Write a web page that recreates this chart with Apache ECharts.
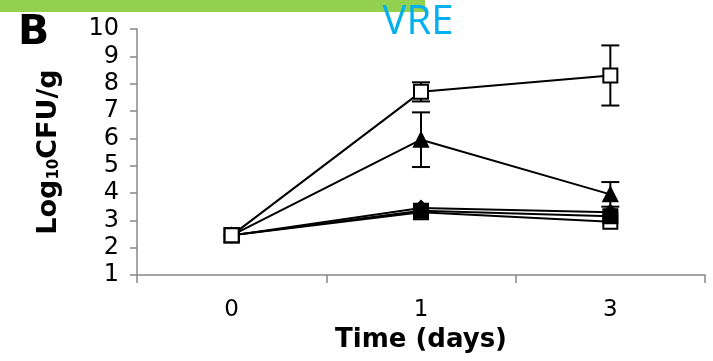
<!DOCTYPE html>
<html>
<head>
<meta charset="utf-8">
<script src="https://cdn.jsdelivr.net/npm/echarts@6/dist/echarts.min.js"></script>
<style>html,body{margin:0;padding:0;background:#fff;}#c{width:713px;height:361px;}</style>
</head>
<body>
<div id="c"></div>
<script>
var categories = ['0', '1', '3'];
var openSquareTop = [2.45, 7.7, 8.3];
var openSquareTopErr = [0, 0.35, 1.1];
var triangle = [2.45, 5.95, 3.95];
var triangleErr = [0, 1.0, 0.45];
var diamond = [2.45, 3.45, 3.3];
var filledSquare = [2.45, 3.35, 3.15];
var openSquareLow = [2.45, 3.3, 2.95];
var yTicks = {min: 1, max: 10, interval: 1};

var chart = echarts.init(document.getElementById('c'), null, {renderer: 'canvas'});

function errData(vals, errs) {
  var d = [];
  for (var i = 0; i < vals.length; i++) {
    if (errs[i] > 0) d.push([i, vals[i] - errs[i], vals[i] + errs[i]]);
  }
  return d;
}
function errRender(params, api) {
  var lo = api.coord([api.value(0), api.value(1)]);
  var hi = api.coord([api.value(0), api.value(2)]);
  var hw = 9;
  var st = {stroke: '#000', lineWidth: 2};
  return {type: 'group', children: [
    {type: 'line', shape: {x1: hi[0], y1: hi[1], x2: lo[0], y2: lo[1]}, style: st},
    {type: 'line', shape: {x1: hi[0] - hw, y1: hi[1], x2: hi[0] + hw, y2: hi[1]}, style: st},
    {type: 'line', shape: {x1: lo[0] - hw, y1: lo[1], x2: lo[0] + hw, y2: lo[1]}, style: st}
  ]};
}
function lineSeries(data, symbol, size, filled, z) {
  return {
    type: 'line', data: data, symbol: symbol, symbolSize: size, z: z,
    showAllSymbol: true, animation: false,
    lineStyle: {color: '#000', width: 2},
    itemStyle: {color: filled ? '#000' : '#fff', borderColor: '#000', borderWidth: 2, opacity: 1}
  };
}

chart.setOption({
  animation: false,
  backgroundColor: '#fff',
  grid: {left: 137, right: 8, top: 29, bottom: 86},
  graphic: [
    {type: 'rect', shape: {x: 0, y: 0, width: 425, height: 12}, style: {fill: '#92D050'}, z: 1},
    {type: 'text', left: 18, top: 13, style: {text: 'B', font: 'bold 41px "DejaVu Sans"', fill: '#000'}, z: 2},
    {type: 'text', x: 418, y: 23, style: {text: 'VRE', font: '40px "Open Sans"', fill: '#00B0F0', align: 'center', verticalAlign: 'middle'}, z: 3}
  ],
  xAxis: {
    type: 'category', data: categories, boundaryGap: true,
    axisLine: {lineStyle: {color: '#888', width: 1.5}},
    axisTick: {show: true, length: 8, lineStyle: {color: '#888', width: 1.5}},
    axisLabel: {fontFamily: 'DejaVu Sans', fontSize: 23, color: '#000', margin: 24},
    name: 'Time (days)', nameLocation: 'middle', nameGap: 52,
    nameTextStyle: {fontFamily: 'DejaVu Sans', fontWeight: 'bold', fontSize: 26, color: '#000'}
  },
  yAxis: {
    type: 'value', min: yTicks.min, max: yTicks.max, interval: yTicks.interval,
    splitLine: {show: false},
    axisLine: {show: true, lineStyle: {color: '#888', width: 1.5}},
    axisTick: {show: true, length: 7, lineStyle: {color: '#888', width: 1.5}},
    axisLabel: {fontFamily: 'DejaVu Sans', fontSize: 24, color: '#000', margin: 18},
    name: '{b|Log}{s|10}{b|CFU/g}', nameLocation: 'middle', nameRotate: 90, nameGap: 75,
    nameTextStyle: {
      rich: {
        b: {fontFamily: 'DejaVu Sans', fontWeight: 'bold', fontSize: 27, color: '#000'},
        s: {fontFamily: 'DejaVu Sans', fontWeight: 'bold', fontSize: 15, color: '#000', verticalAlign: 'bottom'}
      }
    }
  },
  series: [
    {type: 'custom', renderItem: errRender, data: errData(openSquareTop, openSquareTopErr), z: 1, animation: false},
    {type: 'custom', renderItem: errRender, data: errData(triangle, triangleErr), z: 1, animation: false},
    lineSeries(openSquareLow, 'rect', 14, false, 2),
    lineSeries(filledSquare, 'rect', 14, true, 3),
    lineSeries(diamond, 'diamond', 14, true, 4),
    lineSeries(triangle, 'triangle', 14, true, 5),
    lineSeries(openSquareTop, 'rect', 14, false, 6)
  ]
});
</script>
</body>
</html>
